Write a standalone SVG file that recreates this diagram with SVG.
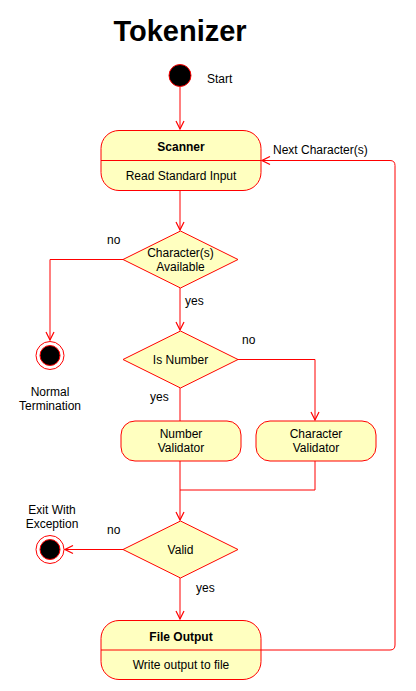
<svg xmlns="http://www.w3.org/2000/svg" width="416" height="691" viewBox="0 0 416 691">
<defs>
<style>
.t{font-family:"Liberation Sans",Arial,sans-serif;font-size:12px;fill:#000}
.b{font-weight:bold}
.m{text-anchor:middle}
.node{fill:#FFFFC0;stroke:#FF0000;stroke-width:1}
.ln{fill:none;stroke:#FF0000;stroke-width:1}
.e{stroke:#FF0000;stroke-width:1;fill:none}
</style>
<marker id="arr" viewBox="0 0 10 10" refX="9" refY="5" markerWidth="10" markerHeight="10" markerUnits="userSpaceOnUse" orient="auto">
<path d="M1,1 L9,5 L1,9" fill="none" stroke="#FF0000" stroke-width="1.2"/>
</marker>
</defs>
<rect width="416" height="691" fill="#fff"/>
<text x="180" y="41" class="t b m" style="font-size:29px">Tokenizer</text>

<g id="connectors">
<path class="e" d="M180,87 V129" marker-end="url(#arr)"/>
<path class="e" d="M180,191 V230" marker-end="url(#arr)"/>
<path class="e" d="M123,259.5 H50 V340" marker-end="url(#arr)"/>
<path class="e" d="M180,288 V330" marker-end="url(#arr)"/>
<path class="e" d="M237,359.5 H315 V420" marker-end="url(#arr)"/>
<path class="e" d="M180,388 V421"/>
<path class="e" d="M180,461 V490"/>
<path class="e" d="M315,461 V490 H180"/>
<path class="e" d="M180,490 V520" marker-end="url(#arr)"/>
<path class="e" d="M123,549.5 H65" marker-end="url(#arr)"/>
<path class="e" d="M180,578 V619" marker-end="url(#arr)"/>
<path class="e" d="M261,650 H390 Q395,650 395,645 V165.5 Q395,160.5 390,160.5 H262" marker-end="url(#arr)"/>
<text x="185" y="305" class="t">yes</text>
<text x="107" y="244" class="t">no</text>
<text x="242" y="344" class="t">no</text>
<text x="150" y="401" class="t">yes</text>
<text x="107" y="534" class="t">no</text>
<text x="196" y="592" class="t">yes</text>
<text x="273" y="154" class="t">Next Character(s)</text>
</g>

<g id="start">
<circle cx="180" cy="75.5" r="11" fill="#000" stroke="#FF0000"/>
<text x="207" y="83" class="t">Start</text>
</g>

<g id="scanner">
<rect x="101" y="130.5" width="160" height="60" rx="18" class="node"/>
<line x1="101" y1="160.5" x2="261" y2="160.5" class="ln"/>
<text x="181" y="151" class="t b m">Scanner</text>
<text x="181" y="180" class="t m">Read Standard Input</text>
</g>

<g id="char-available">
<polygon points="180.5,231 238,259.5 180.5,288 123,259.5" class="node"/>
<text x="180.5" y="257" class="t m">Character(s)</text>
<text x="180.5" y="271" class="t m">Available</text>
</g>

<g id="normal-termination">
<circle cx="50" cy="355.5" r="14" fill="#fff" stroke="#FF0000"/>
<circle cx="50" cy="355.5" r="10" fill="#000" stroke="#FF0000"/>
<text x="50" y="396" class="t m">Normal</text>
<text x="50" y="410" class="t m">Termination</text>
</g>

<g id="is-number">
<polygon points="180.5,331 238,359.5 180.5,388 123,359.5" class="node"/>
<text x="180.5" y="364" class="t m">Is Number</text>
</g>

<g id="number-validator">
<rect x="121" y="421" width="120" height="40" rx="14" class="node"/>
<text x="181" y="438" class="t m">Number</text>
<text x="181" y="452" class="t m">Validator</text>
</g>

<g id="character-validator">
<rect x="256" y="421" width="120" height="40" rx="14" class="node"/>
<text x="316" y="438" class="t m">Character</text>
<text x="316" y="452" class="t m">Validator</text>
</g>

<g id="valid">
<polygon points="180.5,521 238,549.5 180.5,578 123,549.5" class="node"/>
<text x="180.5" y="554" class="t m">Valid</text>
</g>

<g id="exit-exception">
<circle cx="50" cy="549.5" r="14" fill="#fff" stroke="#FF0000"/>
<circle cx="50" cy="549.5" r="10" fill="#000" stroke="#FF0000"/>
<text x="52" y="514" class="t m">Exit With</text>
<text x="52" y="528" class="t m">Exception</text>
</g>

<g id="file-output">
<rect x="101" y="620.5" width="160" height="59" rx="18" class="node"/>
<line x1="101" y1="650" x2="261" y2="650" class="ln"/>
<text x="181" y="641" class="t b m">File Output</text>
<text x="181" y="669" class="t m">Write output to file</text>
</g>
</svg>
